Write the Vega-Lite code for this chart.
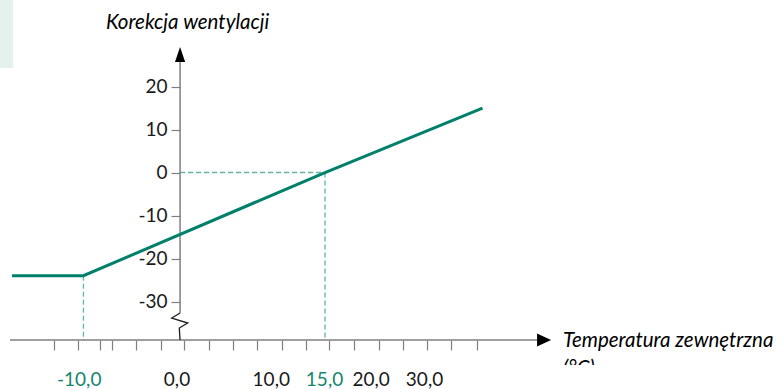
{
  "$schema": "https://vega.github.io/schema/vega-lite/v6.json",
  "width": 770,
  "height": 318,
  "autosize": {"type": "none"},
  "padding": {"left": 10, "top": 47, "right": 0, "bottom": 24},
  "background": "#ffffff",
  "config": {"view": {"stroke": null}, "font": "Lato"},
  "datasets": {
    "bg": [{"t": -18.64, "t2": -17.28, "v": 40.12, "v2": 24.3}],
    "guides": [
      {"t": 0, "v": 0, "t2": 15, "v2": 0},
      {"t": 15, "v": 0, "t2": 15, "v2": -38.95},
      {"t": -10, "v": -24, "t2": -10, "v2": -38.95}
    ],
    "curve": [
      {"t": -17.4, "v": -24},
      {"t": -10, "v": -24},
      {"t": 15, "v": 0},
      {"t": 31.3, "v": 15}
    ],
    "yline": [{"t": 0, "v": 27}, {"t": 0, "v": -32.67}],
    "zigzag": [
      {"i": 0, "t": 0, "v": -32.67},
      {"i": 1, "t": -0.86, "v": -33.84},
      {"i": 2, "t": 0.79, "v": -35.0},
      {"i": 3, "t": -0.08, "v": -36.16},
      {"i": 4, "t": 0, "v": -38.95}
    ],
    "xline": [{"t": -17.6, "t2": 37.3, "v": -38.95}],
    "arrowUp": [{"t": 0, "v": 27.44}],
    "arrowRight": [{"t": 37.67, "v": -38.95}],
    "xlabels": [
      {"t": -10.44, "v": -49.65, "label": "-10,0", "marked": "yes"},
      {"t": -0.32, "v": -49.65, "label": "0,0", "marked": "no"},
      {"t": 9.44, "v": -49.65, "label": "10,0", "marked": "no"},
      {"t": 14.95, "v": -49.65, "label": "15,0", "marked": "yes"},
      {"t": 19.78, "v": -49.65, "label": "20,0", "marked": "no"},
      {"t": 25.3, "v": -49.65, "label": "30,0", "marked": "no"}
    ],
    "ytitle": [{"t": 0.78, "v": 33.3, "label": "Korekcja wentylacji"}],
    "xtitle": [{"t": 39.63, "v": -40.5, "label": "Temperatura zewnętrzna"}],
    "xunit": [{"t": 39.63, "v": -47.1, "label": "(°C)"}]
  },
  "layer": [
    {
      "data": {"name": "bg"},
      "mark": {"type": "rect", "fill": "#e4f1ed", "stroke": null},
      "encoding": {
        "x": {
          "field": "t", "type": "quantitative",
          "scale": {"domain": [-17.6, 62.087], "nice": false, "zero": false},
          "axis": {
            "values": [-13.05, -10.56, -8.29, -7.07, -4.56, -2.0, 0.44, 2.99, 5.51, 7.93, 10.52, 13.0, 15.45, 18.0, 20.59, 23.04, 25.52, 28.01, 30.76],
            "labels": false, "domain": false, "grid": false,
            "tickSize": 10, "tickColor": "#7f7f7f", "tickWidth": 1.2,
            "offset": -25, "title": null
          }
        },
        "x2": {"field": "t2"},
        "y": {
          "field": "v", "type": "quantitative",
          "scale": {"domain": [-44.76, 29.19], "nice": false, "zero": false},
          "axis": {
            "values": [-30, -25, -20, -15, -10, -5, 0, 5, 10, 15, 20],
            "offset": -170, "domain": false, "grid": false,
            "tickSize": 9, "tickColor": "#7f7f7f", "tickWidth": 1.2,
            "tickDash": {"condition": {"test": "datum.value % 10 !== 0", "value": [0, 3, 6]}, "value": []},
            "labelExpr": "datum.value % 10 === 0 ? '' + datum.value : ''",
            "labelFont": "Lato", "labelFontSize": 19, "labelColor": "#1a1a1a",
            "labelPadding": 4, "title": null
          }
        },
        "y2": {"field": "v2"}
      }
    },
    {
      "data": {"name": "guides"},
      "mark": {"type": "rule", "stroke": "#5cb6a2", "strokeWidth": 1.3, "strokeDash": [5, 3]},
      "encoding": {
        "x": {"field": "t", "type": "quantitative"},
        "x2": {"field": "t2"},
        "y": {"field": "v", "type": "quantitative"},
        "y2": {"field": "v2"}
      }
    },
    {
      "data": {"name": "xline"},
      "mark": {"type": "rule", "stroke": "#7f7f7f", "strokeWidth": 1.5},
      "encoding": {
        "x": {"field": "t", "type": "quantitative"},
        "x2": {"field": "t2"},
        "y": {"field": "v", "type": "quantitative"}
      }
    },
    {
      "data": {"name": "yline"},
      "mark": {"type": "line", "stroke": "#7f7f7f", "strokeWidth": 1.5},
      "encoding": {
        "x": {"field": "t", "type": "quantitative"},
        "y": {"field": "v", "type": "quantitative"}
      }
    },
    {
      "data": {"name": "zigzag"},
      "mark": {"type": "line", "stroke": "#1a1a1a", "strokeWidth": 1.3},
      "encoding": {
        "x": {"field": "t", "type": "quantitative"},
        "y": {"field": "v", "type": "quantitative"},
        "order": {"field": "i", "type": "quantitative"}
      }
    },
    {
      "data": {"name": "curve"},
      "mark": {"type": "line", "stroke": "#00806b", "strokeWidth": 3},
      "encoding": {
        "x": {"field": "t", "type": "quantitative"},
        "y": {"field": "v", "type": "quantitative"}
      }
    },
    {
      "data": {"name": "arrowUp"},
      "mark": {"type": "point", "filled": true, "fill": "#000000", "stroke": null, "opacity": 1, "size": 225, "shape": "M0,-1L0.68,1L-0.68,1Z"},
      "encoding": {
        "x": {"field": "t", "type": "quantitative"},
        "y": {"field": "v", "type": "quantitative"}
      }
    },
    {
      "data": {"name": "arrowRight"},
      "mark": {"type": "point", "filled": true, "fill": "#000000", "stroke": null, "opacity": 1, "size": 196, "shape": "M1,0L-1,-0.92L-1,0.92Z"},
      "encoding": {
        "x": {"field": "t", "type": "quantitative"},
        "y": {"field": "v", "type": "quantitative"}
      }
    },
    {
      "data": {"name": "xlabels"},
      "mark": {"type": "text", "font": "Lato", "fontSize": 19, "align": "center", "baseline": "alphabetic"},
      "encoding": {
        "x": {"field": "t", "type": "quantitative"},
        "y": {"field": "v", "type": "quantitative"},
        "text": {"field": "label"},
        "color": {"field": "marked", "type": "nominal", "scale": {"domain": ["yes", "no"], "range": ["#14866d", "#1a1a1a"]}, "legend": null}
      }
    },
    {
      "data": {"name": "ytitle"},
      "mark": {"type": "text", "font": "Lato", "fontSize": 20.5, "fontStyle": "italic", "align": "center", "baseline": "alphabetic", "fill": "#000000"},
      "encoding": {
        "x": {"field": "t", "type": "quantitative"},
        "y": {"field": "v", "type": "quantitative"},
        "text": {"field": "label"}
      }
    },
    {
      "data": {"name": "xtitle"},
      "mark": {"type": "text", "font": "Lato", "fontSize": 20.5, "fontStyle": "italic", "align": "left", "baseline": "alphabetic", "fill": "#000000"},
      "encoding": {
        "x": {"field": "t", "type": "quantitative"},
        "y": {"field": "v", "type": "quantitative"},
        "text": {"field": "label"}
      }
    },
    {
      "data": {"name": "xunit"},
      "mark": {"type": "text", "font": "Lato", "fontSize": 20.5, "fontStyle": "italic", "align": "left", "baseline": "alphabetic", "fill": "#000000", "clip": true},
      "encoding": {
        "x": {"field": "t", "type": "quantitative"},
        "y": {"field": "v", "type": "quantitative"},
        "text": {"field": "label"}
      }
    }
  ]
}
